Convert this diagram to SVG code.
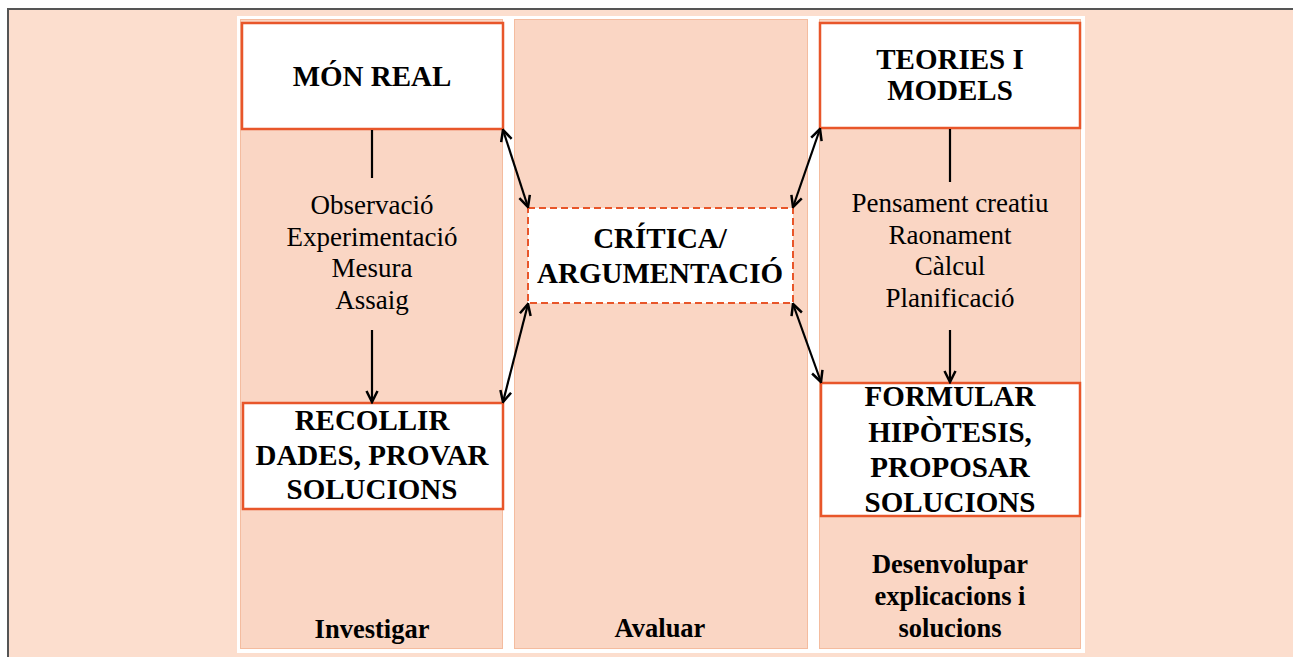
<svg xmlns="http://www.w3.org/2000/svg" width="1293" height="657" viewBox="0 0 1293 657">
<defs>
<marker id="ah" viewBox="0 0 14 14" refX="12.5" refY="7" markerWidth="14" markerHeight="14" markerUnits="userSpaceOnUse" orient="auto-start-reverse">
<path d="M1.5,1.5 L12.5,7 L1.5,12.5" fill="none" stroke="#000" stroke-width="2.5"/>
</marker>
</defs>
<style>
.col{fill:#fad6c4;stroke:#f4bc9f;stroke-width:1}
.box{fill:#fff;stroke:#e8562a;stroke-width:2.5}
.dbox{fill:#fff;stroke:#e8562a;stroke-width:2;stroke-dasharray:7 4}
.b{font-family:"Liberation Serif","Times New Roman",serif;font-weight:bold;font-size:29px;fill:#000;text-anchor:middle}
.r{font-family:"Liberation Serif","Times New Roman",serif;font-size:27px;fill:#000;text-anchor:middle}
.s{font-family:"Liberation Serif","Times New Roman",serif;font-weight:bold;font-size:26.5px;fill:#000;text-anchor:middle}
.c{fill:none;stroke:#000;stroke-width:2.2}
</style>
<rect x="0" y="0" width="1293" height="657" fill="#fff"/>
<rect x="8" y="9" width="1290" height="660" fill="#fcdece" stroke="#555" stroke-width="2"/>
<rect x="237" y="16" width="848" height="637" fill="#fff"/>
<g id="columns">
<rect class="col" x="240.5" y="19.5" width="262" height="629"/>
<rect class="col" x="514.5" y="19.5" width="293" height="629"/>
<rect class="col" x="819.5" y="19.5" width="261" height="629"/>
</g>
<g id="mon-real">
<rect class="box" x="242" y="23" width="261" height="106"/>
<text class="b" x="372" y="86">MÓN REAL</text>
</g>
<g id="teories">
<rect class="box" x="820" y="23" width="260" height="105"/>
<text class="b" x="950" y="69">TEORIES I</text>
<text class="b" x="950" y="100">MODELS</text>
</g>
<g id="critica">
<rect class="dbox" x="528" y="208" width="265" height="95"/>
<text class="b" x="660" y="248">CRÍTICA/</text>
<text class="b" x="660" y="283">ARGUMENTACIÓ</text>
</g>
<g id="recollir">
<rect class="box" x="243" y="403" width="260" height="106"/>
<text class="b" x="372" y="430">RECOLLIR</text>
<text class="b" x="372" y="465">DADES, PROVAR</text>
<text class="b" x="372" y="499">SOLUCIONS</text>
</g>
<g id="formular">
<rect class="box" x="821" y="383" width="259" height="133"/>
<text class="b" x="950" y="406">FORMULAR</text>
<text class="b" x="950" y="442">HIPÒTESIS,</text>
<text class="b" x="950" y="477">PROPOSAR</text>
<text class="b" x="950" y="512">SOLUCIONS</text>
</g>
<g id="investigar-text">
<text class="r" x="372" y="214">Observació</text>
<text class="r" x="372" y="246">Experimentació</text>
<text class="r" x="372" y="277">Mesura</text>
<text class="r" x="372" y="309">Assaig</text>
<text class="s" x="372" y="638">Investigar</text>
</g>
<g id="avaluar-text">
<text class="s" x="660" y="637">Avaluar</text>
</g>
<g id="desenvolupar-text">
<text class="r" x="950" y="212">Pensament creatiu</text>
<text class="r" x="950" y="244">Raonament</text>
<text class="r" x="950" y="275">Càlcul</text>
<text class="r" x="950" y="307">Planificació</text>
<text class="s" x="950" y="573">Desenvolupar</text>
<text class="s" x="950" y="605">explicacions i</text>
<text class="s" x="950" y="637">solucions</text>
</g>
<g id="connectors">
<line class="c" x1="372" y1="130" x2="372" y2="178"/>
<line class="c" x1="372" y1="330" x2="372" y2="402" marker-end="url(#ah)"/>
<line class="c" x1="950" y1="129" x2="950" y2="182"/>
<line class="c" x1="950" y1="330" x2="950" y2="382" marker-end="url(#ah)"/>
<line class="c" x1="503" y1="130" x2="528" y2="207" marker-start="url(#ah)" marker-end="url(#ah)"/>
<line class="c" x1="528" y1="304" x2="503" y2="402" marker-start="url(#ah)" marker-end="url(#ah)"/>
<line class="c" x1="820" y1="129" x2="793" y2="207" marker-start="url(#ah)" marker-end="url(#ah)"/>
<line class="c" x1="793" y1="304" x2="821" y2="382" marker-start="url(#ah)" marker-end="url(#ah)"/>
</g>
</svg>
